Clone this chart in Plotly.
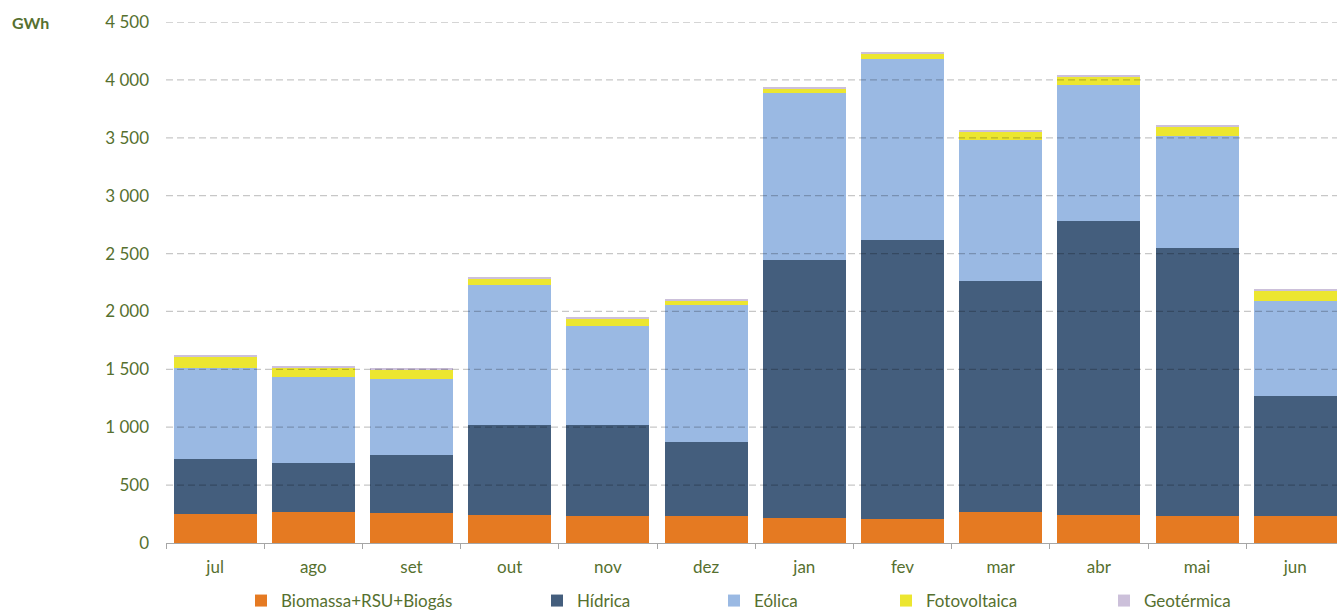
import plotly.graph_objects as go

months = ["jul", "ago", "set", "out", "nov", "dez", "jan", "fev", "mar", "abr", "mai", "jun"]

biomassa = [250, 265, 259, 242, 233, 233, 219, 207, 265, 242, 233, 233]
hidrica = [473, 424, 501, 778, 787, 640, 2226, 2411, 2001, 2543, 2318, 1037]
eolica = [789, 743, 657, 1209, 857, 1183, 1446, 1564, 1219, 1175, 965, 821]
fotovoltaica = [98, 83, 78, 49, 58, 35, 32, 49, 69, 66, 84, 89]
geotermica = [14, 14, 14, 18, 15, 17, 17, 14, 14, 12, 14, 15]

series_names = ["Biomassa+RSU+Biogás", "Hídrica", "Eólica", "Fotovoltaica", "Geotérmica"]
series_values = [biomassa, hidrica, eolica, fotovoltaica, geotermica]
series_colors = ["#E57A22", "#445E7D", "#9AB9E3", "#ECE630", "#CCC0DA"]

y_ticks = [0, 500, 1000, 1500, 2000, 2500, 3000, 3500, 4000, 4500]

TEXT = "#56702F"
FONT = "Lato"
FS = 17

W, H = 1337, 611
L, R, T, B = 166, 0, 22, 68
plot_w = W - L - R

# legend text start positions (px) in the reference
legend_text_px = [281, 577, 754, 926, 1144]

fig = go.Figure()
for i, (name, vals, col) in enumerate(zip(series_names, series_values, series_colors)):
    lg = "legend" if i == 0 else f"legend{i+1}"
    fig.add_trace(go.Bar(
        x=months, y=vals, name=name, marker=dict(color=col, line=dict(width=0)),
        legend=lg, hovertemplate="%{x}: %{y} GWh<extra>" + name + "</extra>",
    ))

layout_legends = {}
for i, tx in enumerate(legend_text_px):
    key = "legend" if i == 0 else f"legend{i+1}"
    layout_legends[key] = dict(
        x=(tx - 40 - L) / plot_w, xanchor="left",
        y=(H - B - 601) / (H - T - B), yanchor="middle",
        orientation="h", font=dict(family=FONT, size=FS, color=TEXT),
        bgcolor="rgba(0,0,0,0)", borderwidth=0,
    )

shapes = [
    dict(type="line", xref="paper", yref="y", x0=0, x1=1, y0=v, y1=v,
         line=dict(color="rgba(0,0,0,0.22)", width=1.3, dash="7px,4px"), layer="above")
    for v in y_ticks if v > 0
]

per_cat = 98.2
fig.update_layout(
    width=W, height=H,
    margin=dict(l=L, r=R, t=T, b=B, pad=0, autoexpand=False),
    barmode="stack", bargap=0.155,
    plot_bgcolor="white", paper_bgcolor="white",
    separators=", ",
    font=dict(family=FONT, size=FS, color=TEXT),
    xaxis=dict(
        type="category", range=[-0.5, -0.5 + plot_w / per_cat],
        showline=True, linecolor="#A6A6A6", linewidth=1.3,
        ticks="outside", tickson="boundaries", ticklen=5, tickcolor="#A6A6A6", tickwidth=1.3,
        showgrid=False, tickfont=dict(family=FONT, size=FS, color=TEXT),
        ticklabelstandoff=8,
    ),
    yaxis=dict(
        range=[0, 4500], tickvals=y_ticks, tickformat=",d",
        showgrid=False, zeroline=False, showline=False,
        ticks="", ticklabelstandoff=16,
        tickfont=dict(family=FONT, size=FS, color=TEXT),
    ),
    shapes=shapes,
    annotations=[dict(
        text="<b>GWh</b>", xref="paper", yref="paper",
        x=(10 - L) / plot_w, y=1, xanchor="left", yanchor="middle",
        showarrow=False, font=dict(family=FONT, size=FS - 1, color=TEXT),
    )],
    showlegend=True,
    **layout_legends,
)

fig.write_html(
    "out.html",
    config={"displayModeBar": False},
    post_script="document.body.style.margin='0';document.body.style.overflow='hidden';",
)
